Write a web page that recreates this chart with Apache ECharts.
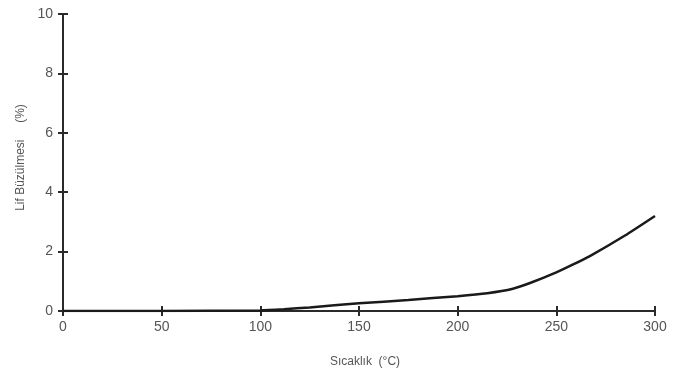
<!DOCTYPE html>
<html><head><meta charset="utf-8">
<script src="https://cdn.jsdelivr.net/npm/echarts@6/dist/echarts.min.js"></script>
<style>html,body{margin:0;padding:0;background:#fff}#c{width:684px;height:376px}</style>
</head><body><div id="c"></div>
<script>
const temps = [0, 50, 100, 112, 125, 150, 175, 200, 215, 228, 237, 250, 258, 267, 285, 300];
const shrink = [0, 0.0, 0.02, 0.06, 0.12, 0.26, 0.37, 0.5, 0.6, 0.75, 0.95, 1.3, 1.55, 1.85, 2.55, 3.2];
const xTicks = [0, 50, 100, 150, 200, 250, 300];
const yTicks = [0, 2, 4, 6, 8, 10];
const xName = 'Sıcaklık  (°C)';
const yName = 'Lif Büzülmesi     (%)';

const axisColor = '#2a2a2a';
const labelColor = '#555';
const font = 'Liberation Sans';
const chart = echarts.init(document.getElementById('c'));
const baseX = {
  type: 'value', min: xTicks[0], max: xTicks[xTicks.length - 1], interval: 50,
  splitLine: { show: false },
  axisLine: { lineStyle: { color: axisColor, width: 2 } }
};
const baseY = {
  type: 'value', min: yTicks[0], max: yTicks[yTicks.length - 1], interval: 2,
  splitLine: { show: false },
  axisLine: { lineStyle: { color: axisColor, width: 2 } }
};
chart.setOption({
  animation: false,
  grid: { left: 63, right: 29, top: 14, bottom: 65 },
  xAxis: [
    Object.assign({}, baseX, {
      name: xName, nameLocation: 'middle', nameGap: 45,
      nameTextStyle: { color: labelColor, fontSize: 12, fontFamily: font, padding: [0, 0, 0, 12] },
      axisTick: { length: 5, lineStyle: { color: axisColor, width: 2 } },
      axisLabel: { color: labelColor, fontSize: 14, fontFamily: font, margin: 9 }
    }),
    Object.assign({}, baseX, {
      position: 'bottom',
      axisTick: { inside: true, length: 5, lineStyle: { color: axisColor, width: 2 } },
      axisLabel: { show: false }
    })
  ],
  yAxis: [
    Object.assign({}, baseY, {
      name: yName, nameLocation: 'middle', nameGap: 35,
      nameTextStyle: { color: labelColor, fontSize: 12, fontFamily: font, padding: [0, 0, 0, 10] },
      axisTick: { length: 5, lineStyle: { color: axisColor, width: 2 } },
      axisLabel: { color: labelColor, fontSize: 14, fontFamily: font, margin: 10 }
    }),
    Object.assign({}, baseY, {
      position: 'left',
      axisTick: { inside: true, length: 5, lineStyle: { color: axisColor, width: 2 } },
      axisLabel: { show: false }
    })
  ],
  series: [{
    type: 'line',
    data: temps.map((t, i) => [t, shrink[i]]),
    smooth: 0.15,
    symbol: 'none',
    lineStyle: { color: '#1a1a1a', width: 2.5 }
  }]
});
</script></body></html>
